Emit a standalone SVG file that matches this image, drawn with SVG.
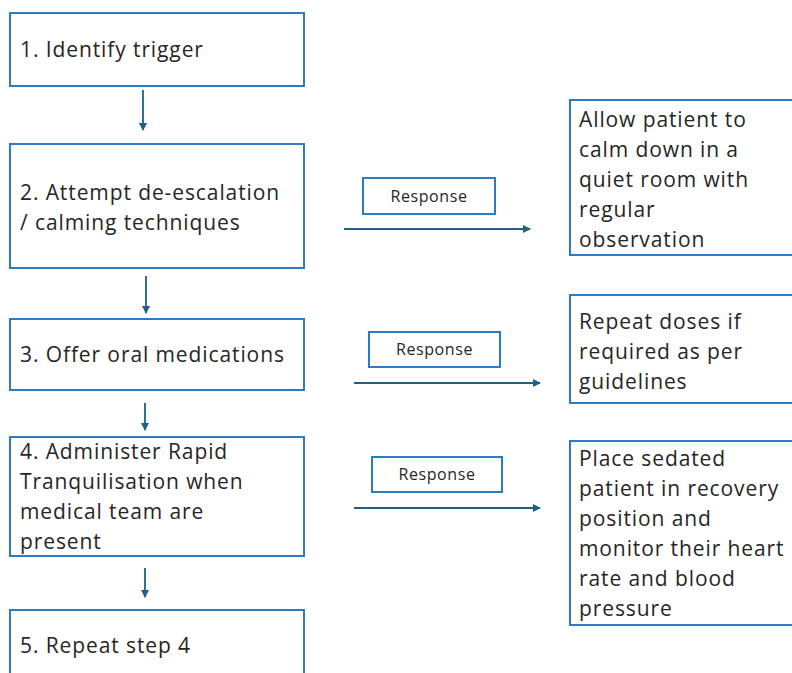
<svg xmlns="http://www.w3.org/2000/svg" width="792" height="673" viewBox="0 0 792 673">
  <defs>
    <marker id="arrow" markerWidth="8" markerHeight="8" refX="7" refY="4" orient="auto" markerUnits="userSpaceOnUse">
      <path d="M0,0 L8,4 L0,8 Z" fill="#1f6089"/>
    </marker>
    <style>
      .box { fill: #ffffff; stroke: #2e7bc4; stroke-width: 2; }
      .txt { font-family: "Open Sans", "Liberation Sans", sans-serif; font-size: 21px; letter-spacing: 0.9px; fill: #262626; }
      .lbl { font-family: "Open Sans", "Liberation Sans", sans-serif; font-size: 16px; letter-spacing: 0.6px; fill: #262626; text-anchor: middle; }
      .conn { stroke: #1f6089; stroke-width: 1.8; fill: none; marker-end: url(#arrow); }
    </style>
  </defs>
  <rect width="792" height="673" fill="#ffffff"/>

  <!-- main steps -->
  <g id="step1">
    <rect class="box" x="10" y="13" width="294" height="73"/>
    <text class="txt" x="20" y="57">1. Identify trigger</text>
  </g>
  <g id="step2">
    <rect class="box" x="10" y="144" width="294" height="124"/>
    <text class="txt" x="20" y="200">2. Attempt de-escalation</text>
    <text class="txt" x="20" y="230">/ calming techniques</text>
  </g>
  <g id="step3">
    <rect class="box" x="10" y="319" width="294" height="71"/>
    <text class="txt" x="20" y="362">3. Offer oral medications</text>
  </g>
  <g id="step4">
    <rect class="box" x="10" y="437" width="294" height="119"/>
    <text class="txt" x="20" y="459">4. Administer Rapid</text>
    <text class="txt" x="20" y="489">Tranquilisation when</text>
    <text class="txt" x="20" y="519">medical team are</text>
    <text class="txt" x="20" y="549">present</text>
  </g>
  <g id="step5">
    <rect class="box" x="10" y="610" width="294" height="80"/>
    <text class="txt" x="20" y="653">5. Repeat step 4</text>
  </g>

  <!-- response labels -->
  <g id="response1">
    <rect class="box" x="363" y="178" width="132" height="36"/>
    <text class="lbl" x="429" y="202">Response</text>
  </g>
  <g id="response2">
    <rect class="box" x="369" y="332" width="131" height="35"/>
    <text class="lbl" x="434.5" y="355">Response</text>
  </g>
  <g id="response3">
    <rect class="box" x="372" y="457" width="130" height="35"/>
    <text class="lbl" x="437" y="480">Response</text>
  </g>

  <!-- outcomes -->
  <g id="outcome1">
    <rect class="box" x="570" y="100" width="240" height="155"/>
    <text class="txt" x="579" y="127">Allow patient to</text>
    <text class="txt" x="579" y="157">calm down in a</text>
    <text class="txt" x="579" y="187">quiet room with</text>
    <text class="txt" x="579" y="217">regular</text>
    <text class="txt" x="579" y="247">observation</text>
  </g>
  <g id="outcome2">
    <rect class="box" x="570" y="295" width="240" height="108"/>
    <text class="txt" x="579" y="329">Repeat doses if</text>
    <text class="txt" x="579" y="359">required as per</text>
    <text class="txt" x="579" y="389">guidelines</text>
  </g>
  <g id="outcome3">
    <rect class="box" x="570" y="441" width="240" height="184"/>
    <text class="txt" x="579" y="466">Place sedated</text>
    <text class="txt" x="579" y="496">patient in recovery</text>
    <text class="txt" x="579" y="526">position and</text>
    <text class="txt" x="579" y="556">monitor their heart</text>
    <text class="txt" x="579" y="586">rate and blood</text>
    <text class="txt" x="579" y="616">pressure</text>
  </g>

  <!-- connectors -->
  <g id="connectors">
    <line class="conn" x1="143" y1="90" x2="143" y2="130"/>
    <line class="conn" x1="146" y1="276" x2="146" y2="313"/>
    <line class="conn" x1="145" y1="403" x2="145" y2="430"/>
    <line class="conn" x1="145" y1="568" x2="145" y2="597"/>
    <line class="conn" x1="344" y1="229" x2="530" y2="229"/>
    <line class="conn" x1="354" y1="383" x2="540" y2="383"/>
    <line class="conn" x1="354" y1="508" x2="540" y2="508"/>
  </g>
</svg>
